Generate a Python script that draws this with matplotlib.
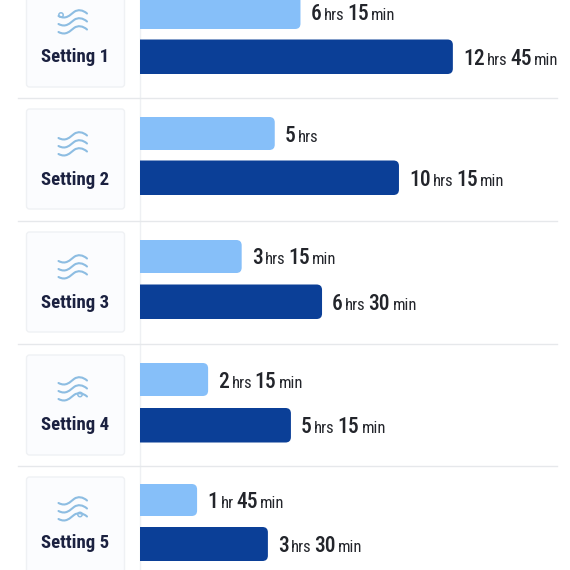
#!/usr/bin/env python3
# -*- coding: utf-8 -*-
"""Setting duration bars, two bars per setting."""

import matplotlib
matplotlib.use('Agg')
import matplotlib.pyplot as plt
from matplotlib.patches import FancyBboxPatch, PathPatch, Circle
from matplotlib.path import Path

categories = ["Setting 1", "Setting 2", "Setting 3", "Setting 4", "Setting 5"]

# bar lengths as drawn, they do not follow the printed labels exactly
light_hours = [6.55, 5.5, 4.15, 2.78, 2.33]
dark_hours = [12.77, 10.57, 7.43, 6.16, 5.22]

light_labels = ["6 hrs 15 min", "5 hrs", "3 hrs 15 min", "2 hrs 15 min", "1 hr 45 min"]
dark_labels = ["12 hrs 45 min", "10 hrs 15 min", "6 hrs 30 min", "5 hrs 15 min", "3 hrs 30 min"]

# layout in pixels
SIZE = 570
BAR_LEFT = 140
PX_PER_HOUR = 24.5
light_spans = [(-6, 29), (117, 150), (240, 273), (363, 396), (484, 516)]
dark_spans = [(39.5, 74), (160.5, 195), (284.5, 319), (408, 442.5), (527, 561)]
card_spans = [(-12, 87), (109, 209), (232, 332), (355, 455), (477, 590)]
separators = [97.5, 220.5, 343.5, 465.5]
icon_centers = [21, 143, 266, 388, 508]
name_centers = [57, 180, 303, 425, 543]

LIGHT = '#86bff9'
DARK = '#0b3f97'
WAVE = '#8dbde2'
FONT = ['Roboto Condensed', 'Roboto', 'DejaVu Sans']

fig = plt.figure(figsize=(SIZE / 100, SIZE / 100), dpi=100, facecolor='white')
bg = fig.add_axes([0, 0, 1, 1])
bg.set_xlim(0, SIZE)
bg.set_ylim(SIZE, 0)
bg.axis('off')

# bars sit in their own axes so the left edge is clipped square
ax = fig.add_axes([BAR_LEFT / SIZE, 0, 1 - BAR_LEFT / SIZE, 1], facecolor='none')
ax.set_xlim(0, (SIZE - BAR_LEFT) / PX_PER_HOUR)
ax.set_ylim(SIZE, 0)
ax.axis('off')

bg.plot([140, 140], [0, SIZE], color='#eef0f3', lw=1)
for y in separators:
    bg.plot([18, 557], [y, y], color='#e6e8eb', lw=1)


def draw_wave(y0, curl=False):
    # one wavy stroke of the icon, centred on x=72
    verts = [(58.5, y0 + 3), (66, y0 + 7), (70, y0 + 2), (74, y0 - 1),
             (78, y0 - 4), (83, y0 - 3), (87, y0 + 0.5)]
    codes = [Path.MOVETO] + [Path.CURVE4] * 6
    bg.add_patch(PathPatch(Path(verts, codes), fc='none', ec=WAVE, lw=1.5, capstyle='round'))
    if curl:
        bg.add_patch(Circle((80, y0 - 1.5), 2.2, fc='none', ec=WAVE, lw=1.1))


for i, name in enumerate(categories):
    top, bottom = card_spans[i]
    bg.add_patch(FancyBboxPatch((26.5, top), 98, bottom - top,
                                boxstyle='round,pad=0,rounding_size=3',
                                fc='#fbfcfe', ec='#eff1f4', lw=1))
    cy = icon_centers[i]
    for dy in (-8, 0, 8):
        draw_wave(cy + dy, curl=(i >= 3 and dy == 8))
    if i == 0:
        bg.add_patch(Circle((61, cy - 6), 2.2, fc='none', ec=WAVE, lw=1.1))
    bg.text(75, name_centers[i], name, ha='center', va='center', fontsize=13.5,
            fontweight='bold', color='#1b2140', family=FONT)


def draw_bar(value, span, color):
    top, bottom = span
    # starts left of the axes, only the right corners stay visible
    ax.add_patch(FancyBboxPatch((-1, top), value + 1, bottom - top,
                                boxstyle='round,pad=0,rounding_size=0.22',
                                mutation_aspect=PX_PER_HOUR,
                                fc=color, ec='none', clip_on=True))


def draw_label(value, span, label):
    # numbers are set larger than the units, so place the words one by one
    renderer = fig.canvas.get_renderer()
    x_off = 10 * 0.72
    base = sum(span) / 2 + 8
    for word in label.split():
        big = word.isdigit()
        t = ax.annotate(word, xy=(value, base), xytext=(x_off, 0), textcoords='offset points',
                        ha='left', va='baseline', color='#23252b', family=FONT,
                        fontsize=15.5 if big else 12, fontweight='medium' if big else 'normal',
                        annotation_clip=False)
        x_off += t.get_window_extent(renderer).width * 0.72 + 2.5 * 0.72


for i in range(len(categories)):
    draw_bar(light_hours[i], light_spans[i], LIGHT)
    draw_bar(dark_hours[i], dark_spans[i], DARK)
    draw_label(light_hours[i], light_spans[i], light_labels[i])
    draw_label(dark_hours[i], dark_spans[i], dark_labels[i])

fig.savefig('out.png', dpi=100, facecolor='white')
plt.close(fig)
